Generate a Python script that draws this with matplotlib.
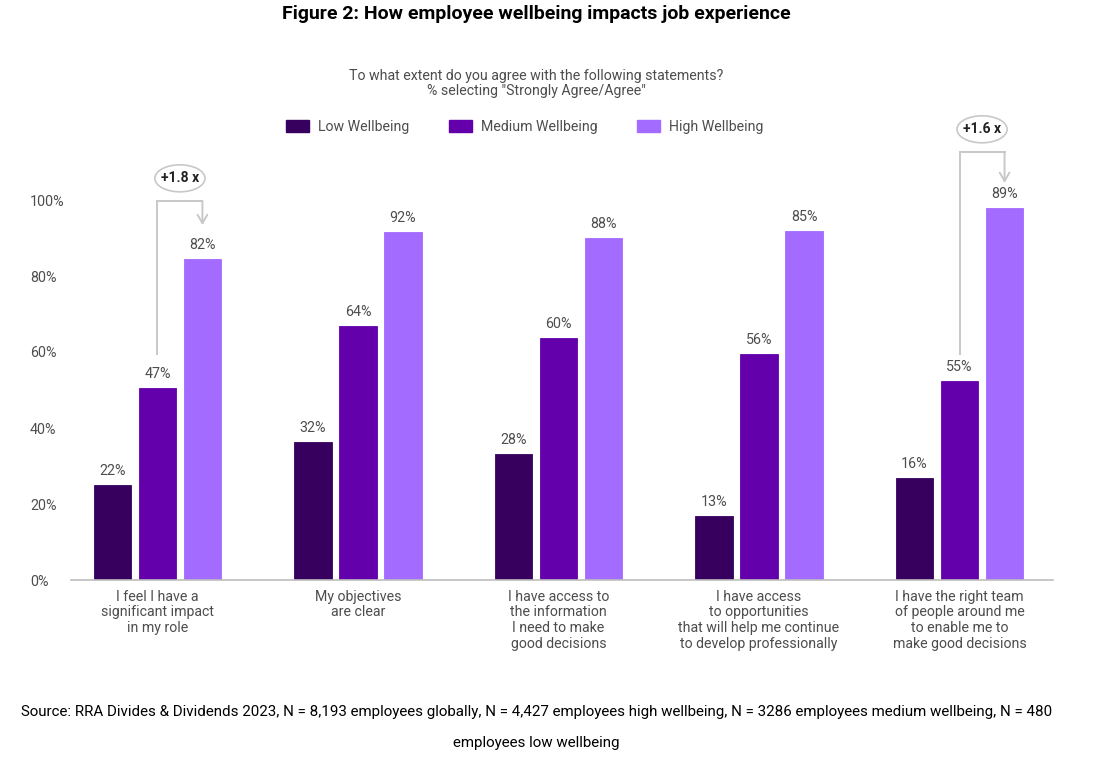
import numpy as np
import matplotlib
matplotlib.use("Agg")
import matplotlib.pyplot as plt
from matplotlib.patches import Ellipse, Patch

plt.rcParams['font.family'] = ['Roboto', 'DejaVu Sans']

# --- data ---
categories = [
    "I feel I have a\nsignificant impact\nin my role",
    "My objectives\nare clear",
    "I have access to\nthe information\nI need to make\ngood decisions",
    "I have access\nto opportunities\nthat will help me continue\nto develop professionally",
    "I have the right team\nof people around me\nto enable me to\nmake good decisions",
]
series_names = ["Low Wellbeing", "Medium Wellbeing", "High Wellbeing"]
# bar heights as drawn in the source chart
low_heights = [25.0, 36.2, 33.2, 16.8, 26.8]
medium_heights = [50.6, 66.9, 63.8, 59.4, 52.5]
high_heights = [84.4, 91.5, 89.9, 91.8, 97.9]
# printed value labels
low_labels = [22, 32, 28, 13, 16]
medium_labels = [47, 64, 60, 56, 55]
high_labels = [82, 92, 88, 85, 89]
callout_groups = [0, 4]
callout_texts = ["+1.8 x", "+1.6 x"]
yticks = [0, 20, 40, 60, 80, 100]

colors = ["#38005e", "#6300ab", "#a36bff"]
text_col = "#4d4d4d"
line_col = "#c8c8c8"

fig = plt.figure(figsize=(10.99, 7.63), dpi=100)
W, H = 1099, 763
px_per_unit = 3.8
y_top = 125
ax_bottom = 580
ax_top = ax_bottom - y_top * px_per_unit
ax = fig.add_axes([71 / W, 1 - ax_bottom / H, (1053 - 71) / W, (ax_bottom - ax_top) / H])

x = np.arange(len(categories))
bw = 0.185
off = 0.2244
all_h = [low_heights, medium_heights, high_heights]
all_l = [low_labels, medium_labels, high_labels]
for k in range(3):
    xs = x + (k - 1) * off
    ax.bar(xs, all_h[k], width=bw, color=colors[k], edgecolor=colors[k], linewidth=0.6)
    for xi, h, lab in zip(xs, all_h[k], all_l[k]):
        ax.annotate(f"{lab}%", (xi, h), xytext=(0, 5), textcoords="offset points",
                    ha="center", va="bottom", fontsize=10.3, color=text_col)

ax.set_xlim(-0.431, 4.466)
ax.set_ylim(0, y_top)
ax.set_xticks(x)
ax.set_xticklabels(categories, fontsize=10.2, color=text_col, linespacing=1.15)
ax.set_yticks(yticks)
ax.set_yticklabels([f"{t}%" for t in yticks], fontsize=10.3, color=text_col)
for lbl in ax.get_yticklabels():
    lbl.set_horizontalalignment("left")
ax.tick_params(axis="y", length=0, pad=29.5)
ax.tick_params(axis="x", length=0, pad=7)
for s in ["top", "right", "left"]:
    ax.spines[s].set_visible(False)
ax.spines["bottom"].set_color("#bdbdbd")
ax.spines["bottom"].set_linewidth(1.2)

# callout brackets
line_bottoms = [59.5, 59.5]
line_tops = [99.7, 112.6]
arrow_tips = [93.4, 104.5]
for g, txt, yb, yt, ya in zip(callout_groups, callout_texts, line_bottoms, line_tops, arrow_tips):
    x0 = x[g]
    x1 = x[g] + off
    ax.plot([x0, x0, x1], [yb, yt, yt], color=line_col, lw=1.4, clip_on=False,
            solid_joinstyle="miter")
    ax.annotate("", xy=(x1, ya), xytext=(x1, yt), xycoords="data",
                arrowprops=dict(arrowstyle="->,head_length=0.6,head_width=0.35",
                                color=line_col, lw=1.4, shrinkA=0, shrinkB=0),
                annotation_clip=False)
    xc = (x0 + x1) / 2
    yc = yt + 6.0
    ax.add_patch(Ellipse((xc, yc), width=0.25, height=7.1, facecolor="white",
                         edgecolor=line_col, lw=1.2, clip_on=False))
    ax.text(xc, yc, txt, ha="center", va="center", fontsize=10, fontweight="bold",
            color="#222222")

# titles
fig.text(0.488, 1 - 14 / H, "Figure 2: How employee wellbeing impacts job experience",
         ha="center", va="center", fontsize=14, fontweight="bold", color="black")
fig.text(0.488, 1 - 76 / H, "To what extent do you agree with the following statements?",
         ha="center", va="center", fontsize=10.2, color=text_col)
fig.text(0.488, 1 - 91 / H, '% selecting "Strongly Agree/Agree"',
         ha="center", va="center", fontsize=10.2, color=text_col)

handles = [Patch(facecolor=c, edgecolor=c) for c in colors]
fig.legend(handles, series_names, loc="center", bbox_to_anchor=(525 / W, 1 - 127 / H),
           ncol=3, frameon=False, fontsize=10.2, handlelength=1.6, handleheight=0.85,
           handletextpad=0.65, columnspacing=2.8, labelcolor=text_col)

fig.text(0.488, 1 - 712 / H,
         "Source: RRA Divides & Dividends 2023, N = 8,193 employees globally, N = 4,427 employees high wellbeing, "
         "N = 3286 employees medium wellbeing, N = 480",
         ha="center", va="center", fontsize=10.9, color="black")
fig.text(0.488, 1 - 743 / H, "employees low wellbeing",
         ha="center", va="center", fontsize=10.9, color="black")

fig.savefig("out.png", dpi=100)
